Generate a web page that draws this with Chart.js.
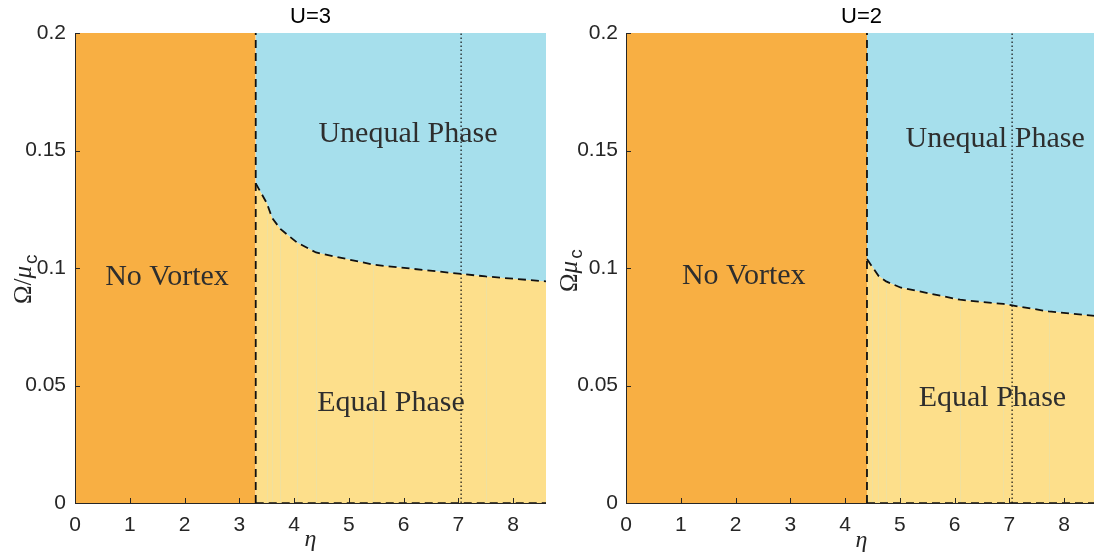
<!DOCTYPE html>
<html>
<head>
<meta charset="utf-8">
<title>Phase diagram</title>
<script src="https://cdn.jsdelivr.net/npm/chart.js@4.4.1/dist/chart.umd.min.js"></script>
<style>
  html, body { margin: 0; padding: 0; background: #fff; overflow: hidden; }
  body { width: 1094px; height: 556px; position: relative; }
  .panel { position: absolute; top: 0; width: 560px; height: 556px; }
</style>
</head>
<body>
<div class="panel" style="left:0"><canvas id="chartU3"></canvas></div>
<div class="panel" style="left:550px"><canvas id="chartU2"></canvas></div>
<script>
// Boundary between equal and unequal phase, Omega/mu_c against eta
const etaU3 = [3.3, 3.5, 3.6, 3.75, 4.05, 4.4, 5.45, 7.5, 8.6];
const omegaU3 = [0.136, 0.1277, 0.1213, 0.1166, 0.1109, 0.1066, 0.1014, 0.0964, 0.0943];

const etaU2 = [4.4, 4.49, 4.61, 4.75, 5.01, 6.1, 6.89, 7.72, 8.6];
const omegaU2 = [0.1038, 0.1007, 0.0967, 0.0943, 0.0917, 0.0865, 0.0847, 0.0815, 0.0795];

// dotted reference eta and plot limits
const etaRef = 7.05;
const etaMax = 8.6;
const omegaMax = 0.2;

const xTicks = [0, 1, 2, 3, 4, 5, 6, 7, 8];
const yTicks = [0, 0.05, 0.1, 0.15, 0.2];

const regionNames = ['No Vortex', 'Unequal Phase', 'Equal Phase'];

const ORANGE = '#F8AF43';
const BLUE = '#A6DFEC';
const YELLOW = '#FDDF8B';
const INK = '#262626';

const SANS = '"Liberation Sans", Arial, Helvetica, sans-serif';
const SERIF = '"Liberation Serif", "Times New Roman", serif';

function pts(xs, ys) {
    return xs.map((x, i) => ({ x: x, y: ys[i] }));
}

function buildDatasets(eta, omega) {
    const onset = eta[0];
    const boundary = pts(eta, omega);
    return [
        { data: [{ x: 0, y: omegaMax }, { x: onset, y: omegaMax }], fill: 'origin',
          backgroundColor: ORANGE, borderWidth: 0, order: 10 },
        { data: boundary, fill: 'end', backgroundColor: BLUE, borderWidth: 0, order: 9 },
        { data: boundary, fill: 'origin', backgroundColor: YELLOW, borderWidth: 0, order: 8, patchLines: true },
        { data: [{ x: onset, y: 0 }, { x: etaMax, y: 0 }], borderColor: '#111',
          borderWidth: 1.6, borderDash: [8, 5], order: 4 },
        { data: boundary, borderColor: '#111', borderWidth: 1.8, borderDash: [8, 5], order: 3 },
        { data: [{ x: onset, y: 0 }, { x: onset, y: omegaMax }], borderColor: '#111',
          borderWidth: 1.8, borderDash: [8, 5], order: 2 },
        { data: [{ x: etaRef, y: 0 }, { x: etaRef, y: omegaMax }], borderColor: '#111',
          borderWidth: 1.2, borderDash: [1.5, 2.5], order: 1 }
    ];
}

// titles, region names, axis lines with inward ticks, axis labels
function decorPlugin(cfg) {
    return {
        id: 'decor',
        afterDatasetDraw(chart, args) {
            const ds = chart.data.datasets[args.index];
            if (!ds.patchLines) return;
            const { ctx, scales: { x, y } } = chart;
            ctx.save();
            ctx.strokeStyle = 'rgba(214,226,196,0.35)';
            ctx.lineWidth = 1;
            ds.data.slice(1, -1).forEach(p => {
                const px = Math.round(x.getPixelForValue(p.x)) + 0.5;
                ctx.beginPath();
                ctx.moveTo(px, y.getPixelForValue(0));
                ctx.lineTo(px, y.getPixelForValue(p.y));
                ctx.stroke();
            });
            ctx.restore();
        },
        afterDraw(chart) {
            const { ctx, chartArea: a, scales: { x, y } } = chart;
            ctx.save();

            // axes
            ctx.strokeStyle = INK;
            ctx.lineWidth = 1;
            ctx.beginPath();
            ctx.moveTo(a.left + 0.5, a.top);
            ctx.lineTo(a.left + 0.5, a.bottom + 0.5);
            ctx.lineTo(a.right, a.bottom + 0.5);
            ctx.stroke();
            ctx.beginPath();
            xTicks.forEach(v => {
                const px = Math.round(x.getPixelForValue(v)) + 0.5;
                ctx.moveTo(px, a.bottom);
                ctx.lineTo(px, a.bottom - 5);
            });
            yTicks.forEach(v => {
                const py = Math.round(y.getPixelForValue(v)) + 0.5;
                ctx.moveTo(a.left, py);
                ctx.lineTo(a.left + 5, py);
            });
            ctx.stroke();

            // panel title
            ctx.fillStyle = '#000';
            ctx.font = '22px ' + SANS;
            ctx.textAlign = 'center';
            ctx.textBaseline = 'middle';
            ctx.fillText(cfg.title, (a.left + a.right) / 2, 17);

            // region names
            ctx.fillStyle = '#2e2e2e';
            ctx.font = '30px ' + SERIF;
            ctx.textBaseline = 'alphabetic';
            cfg.regions.forEach(r => {
                ctx.fillText(r.text, x.getPixelForValue(r.x), y.getPixelForValue(r.y));
            });

            // x axis label
            ctx.fillStyle = INK;
            ctx.font = 'italic 24px ' + SERIF;
            ctx.fillText('\u03B7', (a.left + a.right) / 2, cfg.etaBaseline);

            // y axis label, rotated, with subscript c
            ctx.translate(cfg.yLabelX, cfg.yLabelY);
            ctx.rotate(-Math.PI / 2);
            ctx.textAlign = 'left';
            let tx = 0;
            cfg.yLabel.forEach(part => {
                ctx.font = part.font;
                ctx.fillText(part.text, tx + (part.dx || 0), part.dy || 0);
                tx += ctx.measureText(part.text).width + (part.dx || 0);
            });
            ctx.restore();
        }
    };
}

function makeChart(id, eta, omega, cfg, padRight) {
    const tickFont = { family: SANS, size: 21 };
    return new Chart(document.getElementById(id), {
        type: 'line',
        data: { datasets: buildDatasets(eta, omega) },
        options: {
            responsive: true,
            maintainAspectRatio: false,
            animation: false,
            events: [],
            layout: { padding: { top: 33, right: padRight, bottom: 0, left: 0 } },
            elements: { point: { radius: 0 }, line: { tension: 0 } },
            plugins: { legend: { display: false }, tooltip: { enabled: false } },
            scales: {
                x: {
                    type: 'linear', min: 0, max: etaMax,
                    grid: { display: false, drawTicks: false }, border: { display: false },
                    afterBuildTicks: s => { s.ticks = xTicks.map(v => ({ value: v })); },
                    afterFit: s => { s.height = 53; },
                    ticks: { color: INK, font: tickFont, padding: 10, maxRotation: 0, autoSkip: false,
                             callback: v => String(v) }
                },
                y: {
                    type: 'linear', min: 0, max: omegaMax,
                    grid: { display: false, drawTicks: false }, border: { display: false },
                    afterBuildTicks: s => { s.ticks = yTicks.map(v => ({ value: v })); },
                    afterFit: s => { s.width = cfg.yAxisWidth; },
                    ticks: { color: INK, font: tickFont, padding: cfg.yTickPad, autoSkip: false,
                             callback: v => String(v) }
                }
            }
        },
        plugins: [decorPlugin(cfg)]
    });
}

const upright = '25px ' + SERIF;
const italic = 'italic 25px ' + SERIF;
const subFont = '19px ' + SANS;

makeChart('chartU3', etaU3, omegaU3, {
    title: 'U=3',
    yAxisWidth: 75,
    yTickPad: 9,
    etaBaseline: 546,
    yLabelX: 31, yLabelY: 304,
    yLabel: [
        { text: '\u03A9', font: upright },
        { text: '/', font: upright },
        { text: '\u03BC', font: italic },
        { text: 'c', font: subFont, dy: 6, dx: 2 }
    ],
    regions: [
        { text: regionNames[0], x: 1.68, y: 0.0926 },
        { text: regionNames[1], x: 6.08, y: 0.1537 },
        { text: regionNames[2], x: 5.77, y: 0.0391 }
    ]
}, 14);

makeChart('chartU2', etaU2, omegaU2, {
    title: 'U=2',
    yAxisWidth: 76,
    yTickPad: 8,
    etaBaseline: 547,
    yLabelX: 27, yLabelY: 292,
    yLabel: [
        { text: '\u03A9', font: upright },
        { text: '\u03BC', font: italic },
        { text: 'c', font: subFont, dy: 5, dx: 2 }
    ],
    regions: [
        { text: regionNames[0], x: 2.15, y: 0.0931 },
        { text: regionNames[1], x: 6.74, y: 0.1514 },
        { text: regionNames[2], x: 6.69, y: 0.0411 }
    ]
}, 13);
</script>
</body>
</html>
